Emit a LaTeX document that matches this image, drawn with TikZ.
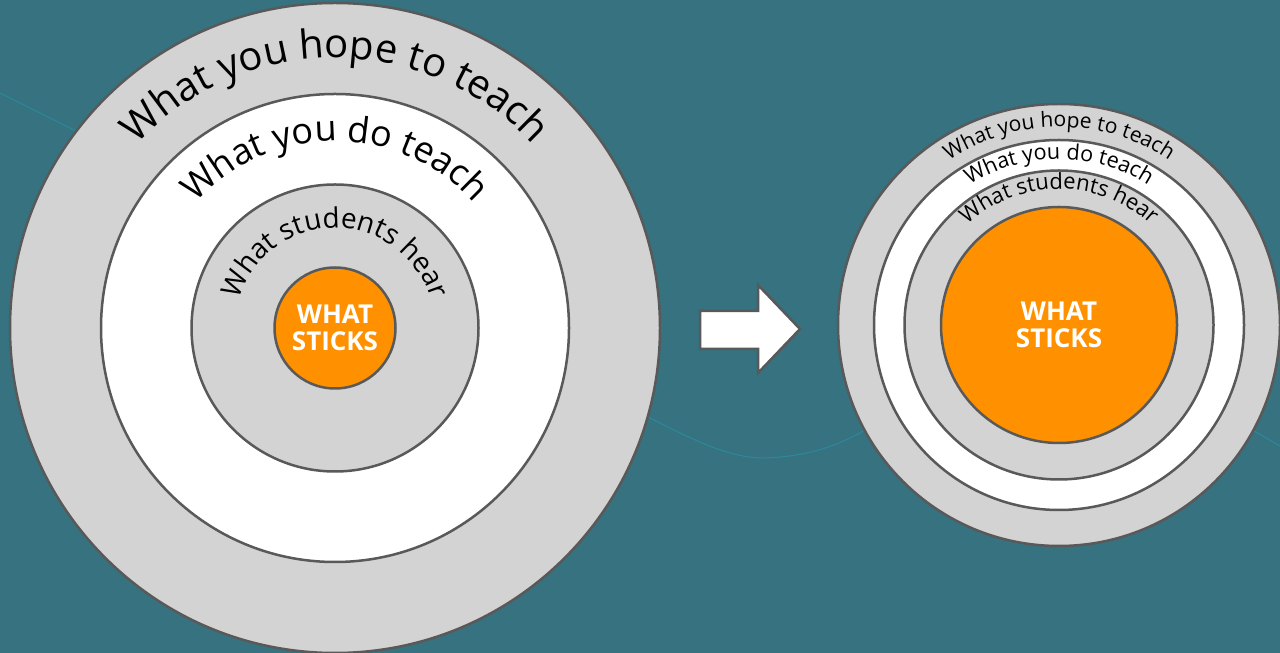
\documentclass[tikz,border=0pt]{standalone}
\usepackage{fontspec}
\setmainfont{Open Sans}
\usetikzlibrary{decorations.text,positioning}
\definecolor{slidebg}{RGB}{54,114,128}
\definecolor{swirl}{RGB}{46,136,156}
\definecolor{ringgray}{RGB}{211,211,211}
\definecolor{ringedge}{RGB}{89,89,89}
\definecolor{stickorange}{RGB}{255,145,0}
\tikzstyle{rings}=[
  x=0.5pt,y=0.5pt,font=\small
]
\tikzstyle{ring}=[
  draw=ringedge,circle,line width=1.25pt,inner sep=0pt,fill=ringgray
]
\tikzstyle{whitering}=[
  ring,fill=white
]
\tikzstyle{core}=[
  ring,fill=stickorange,text=white,align=center,
  font=\bfseries\fontsize{13}{13.5}\selectfont
]
\tikzstyle{ringtext}=[
  decorate,decoration={text along path,text align=center}
]
\tikzstyle{swirlline}=[
  draw=swirl,line width=0.5pt
]
\tikzstyle{blockarrow}=[
  draw=ringedge,line width=1.25pt,fill=white,line join=miter
]

\begin{document}
\begin{tikzpicture}[rings]
  \fill [slidebg] (0,0) rectangle (1280,653);
  \useasboundingbox (0,0) rectangle (1280,653);
  % faint lines in the background
  \draw [swirlline] (0,560) .. controls (30,545) and (60,530) .. (110,505);
  \draw [swirlline] (620,250) .. controls (690,215) and (725,195) .. (765,195)
        .. controls (815,197) and (850,210) .. (890,240);
  \draw [swirlline] (1230,236) -- (1280,207);
  % left: the big rings
  \node (hopeL) at (335,325) [ring,minimum size=325pt] {};
  \node (doL) at (hopeL.center) [whitering,minimum size=234pt] {};
  \node (hearL) at (hopeL.center) [ring,minimum size=143.5pt] {};
  \node (sticksL) at (hopeL.center) [core,minimum size=60.5pt] {WHAT\\STICKS};
  \path [ringtext,decoration={text={|\fontsize{20}{20}\selectfont|What you hope to teach}}]
    (hopeL.center) ++(180:270) arc[start angle=180,end angle=0,radius=270];
  \path [ringtext,decoration={text={|\fontsize{18}{18}\selectfont|What you do teach}}]
    (hopeL.center) ++(180:187) arc[start angle=180,end angle=0,radius=187];
  \path [ringtext,decoration={text={|\fontsize{14}{14}\selectfont|What students hear}}]
    (hopeL.center) ++(180:100) arc[start angle=180,end angle=0,radius=100];
  % arrow
  \coordinate (tailtop) at (700,342);
  \coordinate (tailbot) at (700,304);
  \coordinate (tip) at (800,324);
  \draw [blockarrow] (tailtop) -- (758,342) -- (758,368) -- (tip)
    -- (758,280) -- (758,304) -- (tailbot) -- cycle;
  % right: the small rings
  \node (hopeR) at (1059,328) [ring,minimum size=221pt] {};
  \node (doR) at (hopeR.center) [whitering,minimum size=185pt] {};
  \node (hearR) at (hopeR.center) [ring,minimum size=154.5pt] {};
  \node (sticksR) at (hopeR.center) [core,minimum size=118pt] {WHAT\\STICKS};
  \path [ringtext,decoration={text={|\fontsize{10.5}{10.5}\selectfont|What you hope to teach}}]
    (hopeR.center) ++(180:198) arc[start angle=180,end angle=0,radius=198];
  \path [ringtext,decoration={text={|\fontsize{10.8}{10.8}\selectfont|What you do teach}}]
    (hopeR.center) ++(180:166) arc[start angle=180,end angle=0,radius=166];
  \path [ringtext,decoration={text={|\fontsize{11}{11}\selectfont|What students hear}}]
    (hopeR.center) ++(180:136) arc[start angle=180,end angle=0,radius=136];
\end{tikzpicture}
\end{document}
